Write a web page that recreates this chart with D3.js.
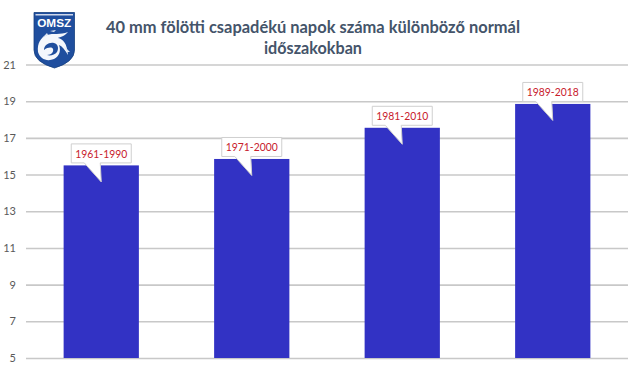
<!DOCTYPE html>
<html>
<head>
<meta charset="utf-8">
<script src="https://cdn.jsdelivr.net/npm/d3@7/dist/d3.min.js"></script>
<style>
html,body{margin:0;padding:0;background:#fff;}
svg{display:block;}
text{font-family:Lato,"Noto Sans",sans-serif;}
</style>
</head>
<body>
<svg id="c" width="640" height="370"></svg>
<script>
const categories = ["1961-1990","1971-2000","1981-2010","1989-2018"];
const values = [15.5,15.85,17.55,18.85];
const tickValues = [5,7,9,11,13,15,17,19,21];
const titleLines = ["40 mm fölötti csapadékú napok száma különböző normál","időszakokban"];

const svg = d3.select("#c");
const plotLeft=26,plotRight=628,plotTop=64.5,plotBottom=358;
const y = d3.scaleLinear().domain([5,21]).range([plotBottom,plotTop]);
const x = d3.scaleBand().domain(categories).range([plotLeft,plotRight]).paddingInner(0.5).paddingOuter(0.25);

// gridlines and tick labels through a d3 axis
const axis = d3.axisLeft(y).tickValues(tickValues).tickSize(-(plotRight-plotLeft)).tickFormat(d3.format("d"));
const ag = svg.append("g").attr("transform",`translate(${plotLeft},0)`).call(axis);
ag.select(".domain").remove();
ag.selectAll(".tick line").attr("stroke","#c8c8c8").attr("stroke-width",1.6);
ag.selectAll(".tick text").attr("fill","#595959").attr("font-size",11).attr("x",-10).style("text-anchor","end");

// bars
svg.append("g").selectAll("rect").data(categories).join("rect")
  .attr("x",d=>x(d)).attr("width",x.bandwidth())
  .attr("y",(d,i)=>y(values[i])).attr("height",(d,i)=>y(5)-y(values[i]))
  .attr("fill","#3232c4");

// title
const titleWidths = [414,98];
svg.append("g").selectAll("text").data(titleLines).join("text")
  .attr("text-anchor","middle").attr("fill","#44546a")
  .attr("font-size",17.5).attr("font-weight",700)
  .attr("x",313).attr("y",(d,i)=>32.5+i*21)
  .attr("textLength",(d,i)=>titleWidths[i]).attr("lengthAdjust","spacingAndGlyphs")
  .text(d=>d);

// callouts
const cg = svg.append("g").selectAll("g").data(categories).join("g")
  .attr("transform",(d,i)=>`translate(${x(d)+x.bandwidth()/2},${y(values[i])})`);
cg.append("path")
  .attr("d",`M-30,-21.5 H30 V-2.5 H-1 L0,16.5 L-17,-2.5 H-30 Z`)
  .attr("fill","#fff").attr("stroke","#cfcfcf").attr("stroke-width",1);
cg.append("text").attr("text-anchor","middle").attr("y",-7.5).attr("font-size",12)
  .attr("textLength",52).attr("lengthAdjust","spacingAndGlyphs")
  .attr("fill","#c8202c").text(d=>d);

// logo
const logo = svg.append("g");
logo.append("path").attr("d","M34,12.5 H74.5 V50 Q74.5,62 54.5,68 Q34,62 34,50 Z")
  .attr("fill","#1f4e9e").attr("stroke","#17407f").attr("stroke-width",0.8);
logo.append("path").attr("d","M35.5,14 H73 V15.5 H35.5 Z").attr("fill","#cfd8ea");
logo.append("text").attr("x",54.2).attr("y",26.5).attr("text-anchor","middle").attr("fill","#fff")
  .attr("font-size",11.5).attr("font-weight",700).attr("textLength",34).attr("lengthAdjust","spacingAndGlyphs")
  .style("font-family","Liberation Sans, sans-serif").text("OMSZ");
// swirl
logo.append("path").attr("d","M38,52 C37,43 41,37 47,35 C53,33 60,35 68,32 C65,36 60,37 58,38 C63,39 67,43 68,55 C65,50 62,46 59,45 C61,50 60,56 54,59 C47,62 40,59 38,52 Z")
  .attr("fill","#f4f7fc");
logo.append("path").attr("d","M44,50 C44,45 49,42 54,43 C58,44 59,48 57,52 C55,55 50,56 47,55 C51,55 54,52 53,49 C52,47 48,47 44,50 Z")
  .attr("fill","#1f4e9e");
logo.append("path").attr("d","M42,38 L47,33 L48,35 Z M50,31 L56,30 L54,32 Z M64,46 L70,52 L67,52 Z").attr("fill","#dfe7f4");
</script>
</body>
</html>
